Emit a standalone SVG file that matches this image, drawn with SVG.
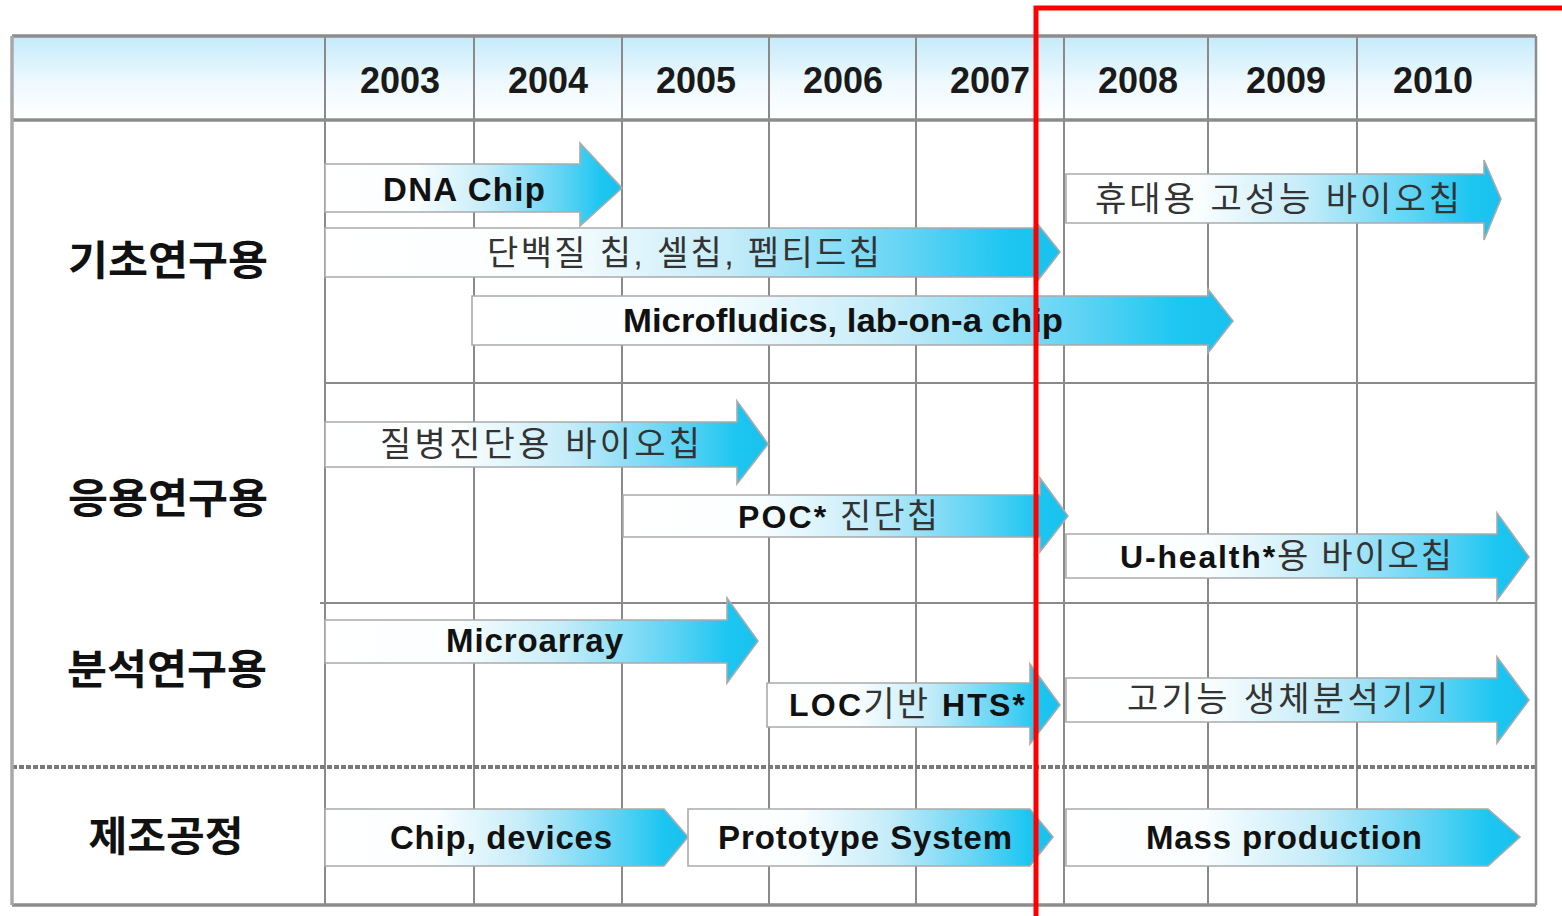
<svg xmlns="http://www.w3.org/2000/svg" width="1562" height="916" viewBox="0 0 1562 916">
<defs>
  <linearGradient id="hdr" x1="0" y1="0" x2="0" y2="1">
    <stop offset="0" stop-color="#c4eafa"/>
    <stop offset="0.55" stop-color="#eef9fe"/>
    <stop offset="1" stop-color="#ffffff"/>
  </linearGradient>
  <linearGradient id="arr" x1="0" y1="0" x2="1" y2="0">
    <stop offset="0" stop-color="#ffffff"/>
    <stop offset="0.3" stop-color="#fbfeff"/>
    <stop offset="0.55" stop-color="#c5ecf9"/>
    <stop offset="0.8" stop-color="#5fd3f4"/>
    <stop offset="0.93" stop-color="#1cc6f1"/>
    <stop offset="1" stop-color="#19c2ee"/>
  </linearGradient>
</defs>
<style>
  .grid { stroke:#8a8a8a; stroke-width:2; fill:none; }
  .border { stroke:#8c8c8c; stroke-width:3.5; fill:none; }
  .dots { stroke:#7a7a7a; stroke-width:4; stroke-dasharray:5 2; fill:none; }
  .arrow { fill:url(#arr); stroke:#ababab; stroke-width:1.6; stroke-linejoin:miter; }
  .year { font-family:"Liberation Sans", Arial, sans-serif; font-weight:bold; font-size:36px; fill:#1a1a1a; text-anchor:middle; }
  .sec { font-family:"Noto Sans CJK KR", sans-serif; font-weight:bold; font-size:41px; fill:#111; text-anchor:middle; }
  .en { font-family:"Liberation Sans", Arial, "Noto Sans CJK KR", sans-serif; font-weight:bold; font-size:33px; fill:#111; }
  .ko { font-family:"Liberation Sans", Arial, "Noto Sans CJK KR", sans-serif; font-weight:normal; font-size:34px; fill:#333; }
  .b { font-weight:bold; fill:#111; font-size:32px; }
  .k { font-weight:normal; fill:#333; }
</style>
<rect x="0" y="0" width="1562" height="916" fill="#ffffff"/>

<g id="table">
  <rect x="12" y="36" width="1524" height="84" fill="url(#hdr)"/>
  <g class="grid">
    <line x1="325" y1="36" x2="325" y2="905"/>
    <line x1="474" y1="36" x2="474" y2="905"/>
    <line x1="622" y1="36" x2="622" y2="905"/>
    <line x1="769" y1="36" x2="769" y2="905"/>
    <line x1="916" y1="36" x2="916" y2="905"/>
    <line x1="1064" y1="36" x2="1064" y2="905"/>
    <line x1="1208" y1="36" x2="1208" y2="905"/>
    <line x1="1357" y1="36" x2="1357" y2="905"/>
    <line x1="325" y1="383" x2="1536" y2="383"/>
    <line x1="320" y1="603" x2="1536" y2="603"/>
  </g>
  <line class="dots" x1="12" y1="767" x2="1536" y2="767"/>
  <g class="border">
    <line x1="12" y1="36" x2="1536" y2="36"/>
    <line x1="12" y1="120" x2="1536" y2="120"/>
    <line x1="12" y1="905" x2="1536" y2="905"/>
    <line x1="12" y1="36" x2="12" y2="905" stroke="#a8a8a8"/>
    <line x1="1536" y1="36" x2="1536" y2="905" stroke-width="2.5"/>
  </g>
</g>

<g id="years">
  <text class="year" x="400" y="93">2003</text>
  <text class="year" x="548" y="93">2004</text>
  <text class="year" x="696" y="93">2005</text>
  <text class="year" x="843" y="93">2006</text>
  <text class="year" x="990" y="93">2007</text>
  <text class="year" x="1138" y="93">2008</text>
  <text class="year" x="1286" y="93">2009</text>
  <text class="year" x="1433" y="93">2010</text>
</g>

<g id="sections">
  <text id="sec-basic" class="sec" x="168" y="275" textLength="200" lengthAdjust="spacingAndGlyphs">기초연구용</text>
  <text id="sec-applied" class="sec" x="168" y="513" textLength="200" lengthAdjust="spacingAndGlyphs">응용연구용</text>
  <text id="sec-analysis" class="sec" x="167" y="684" textLength="200" lengthAdjust="spacingAndGlyphs">분석연구용</text>
  <text id="sec-manufacturing" class="sec" x="166" y="851" textLength="155" lengthAdjust="spacingAndGlyphs">제조공정</text>
</g>

<g id="connectors">
  <g id="a-dna">
    <path class="arrow" d="M325,164 H580 V143 L622,188 L580,226 V212 H325 Z"/>
    <text class="en" x="383" y="201" font-size="34" textLength="162" lengthAdjust="spacing">DNA Chip</text>
  </g>
  <g id="a-protein">
    <path class="arrow" d="M325,228 H1036 V222 L1060,252 L1036,283 V277 H325 Z"/>
    <text class="ko" x="487" y="265" textLength="393" lengthAdjust="spacing">단백질 칩, 셀칩, 펩티드칩</text>
  </g>
  <g id="a-micro">
    <path class="arrow" d="M472,296 H1208 V289 L1233,321 L1208,353 V345 H472 Z"/>
    <text class="en" x="623" y="332" font-size="32" textLength="440" lengthAdjust="spacingAndGlyphs">Microfludics, lab-on-a chip</text>
  </g>
  <g id="a-portable">
    <path class="arrow" d="M1066,174 H1484 V160 L1501,199 L1484,240 V223 H1066 Z"/>
    <text class="ko" x="1095" y="211" textLength="365" lengthAdjust="spacing">휴대용 고성능 바이오칩</text>
  </g>
  <g id="a-disease">
    <path class="arrow" d="M325,422 H737 V401 L768,444 L737,484 V467 H325 Z"/>
    <text class="ko" x="380" y="456" textLength="320" lengthAdjust="spacing">질병진단용 바이오칩</text>
  </g>
  <g id="a-poc">
    <path class="arrow" d="M623,495 H1040 V478 L1068,516 L1040,552 V537 H623 Z"/>
    <text class="ko" x="738" y="528" textLength="200" lengthAdjust="spacing"><tspan class="b">POC*</tspan> 진단칩</text>
  </g>
  <g id="a-uhealth">
    <path class="arrow" d="M1066,534 H1497 V513 L1529,557 L1497,600 V578 H1066 Z"/>
    <text class="ko" x="1120" y="568" textLength="332" lengthAdjust="spacing"><tspan class="b">U-health*</tspan>용 바이오칩</text>
  </g>
  <g id="a-microarray">
    <path class="arrow" d="M325,620 H727 V598 L758,641 L727,683 V663 H325 Z"/>
    <text class="en" x="446" y="652" font-size="34" textLength="177" lengthAdjust="spacing">Microarray</text>
  </g>
  <g id="a-loc">
    <path class="arrow" d="M767,683 H1030 V664 L1060,705 L1030,744 V727 H767 Z"/>
    <text class="ko" x="789" y="716" textLength="236" lengthAdjust="spacing"><tspan class="b">LOC</tspan>기반 <tspan class="b">HTS*</tspan></text>
  </g>
  <g id="a-analyzer">
    <path class="arrow" d="M1066,678 H1497 V657 L1529,700 L1497,743 V722 H1066 Z"/>
    <text class="ko" x="1127" y="711" textLength="321" lengthAdjust="spacing">고기능 생체분석기기</text>
  </g>
  <g id="a-chip">
    <path class="arrow" d="M325,809 H664 L688,837 L664,866 H325 Z"/>
    <text class="en" x="390" y="849" font-size="32" textLength="222" lengthAdjust="spacing">Chip, devices</text>
  </g>
  <g id="a-proto">
    <path class="arrow" d="M688,809 H1030 L1053,837 L1030,866 H688 Z"/>
    <text class="en" x="718" y="849" font-size="32" textLength="294" lengthAdjust="spacing">Prototype System</text>
  </g>
  <g id="a-mass">
    <path class="arrow" d="M1066,809 H1488 L1520,837 L1488,866 H1066 Z"/>
    <text class="en" x="1146" y="849" font-size="32" textLength="276" lengthAdjust="spacing">Mass production</text>
  </g>
</g>

<g id="highlight">
  <path d="M1036,916 V8 H1562" fill="none" stroke="#ff0000" stroke-width="5"/>
</g>
</svg>
